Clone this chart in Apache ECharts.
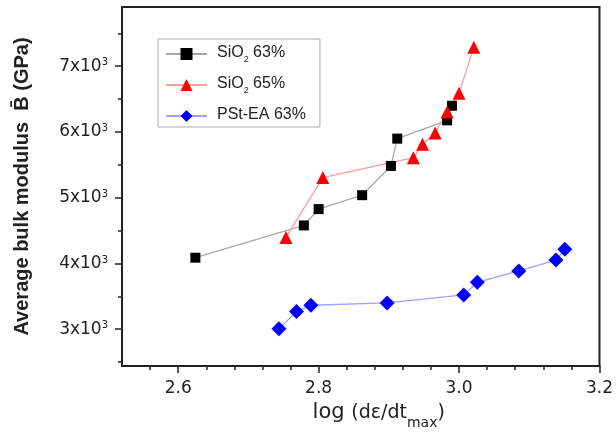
<!DOCTYPE html>
<html>
<head>
<meta charset="utf-8">
<script src="https://cdn.jsdelivr.net/npm/echarts@6/dist/echarts.min.js"></script>
<style>
  html, body { margin: 0; padding: 0; background: #fff; }
  #chart { width: 616px; height: 443px; }
</style>
</head>
<body>
<div id="chart"></div>
<script>
// values
var sio63X = [2.6245, 2.779, 2.800, 2.862, 2.903, 2.912, 2.983, 2.990];
var sio63Y = [4087, 4578, 4826, 5038, 5483, 5898, 6176, 6398];

var sio65X = [2.7535, 2.806, 2.935, 2.948, 2.966, 2.983, 3.000, 3.021];
var sio65Y = [4396, 5306, 5609, 5812, 5984, 6302, 6590, 7288];

var pstX = [2.7435, 2.7685, 2.789, 2.8976, 3.0066, 3.026, 3.085, 3.138, 3.1506];
var pstY = [3005, 3268, 3364, 3400, 3521, 3713, 3885, 4052, 4214];

var xLabels = [2.6, 2.8, 3.0, 3.2];
var xMinor = [2.56, 2.64, 2.68, 2.72, 2.76, 2.84, 2.88, 2.92, 2.96, 3.04, 3.08, 3.12, 3.16];
var yLabels = [3000, 4000, 5000, 6000, 7000];
var yMinor = [2500, 3500, 4500, 5500, 6500, 7500];

var names = ['SiO2 63%', 'SiO2 65%', 'PSt-EA 63%'];

function pairs(xs, ys) {
  var out = [];
  for (var i = 0; i < xs.length; i++) out.push([xs[i], ys[i]]);
  return out;
}

var FONT = 'Liberation Sans';
var WIDE = 'DejaVu Sans';
var X_MIN = 2.52, X_MAX = 3.2, Y_MIN = 2440, Y_MAX = 7900;

var chart = echarts.init(document.getElementById('chart'), null, { renderer: 'canvas' });

var option = {
  animation: false,
  backgroundColor: '#fff',
  grid: {
    left: 122, right: 16, top: 7, bottom: 77,
    show: true, borderColor: '#222', borderWidth: 2
  },
  legend: {
    orient: 'vertical',
    left: 158, top: 39,
    padding: [6, 14, 4, 7],
    itemGap: 12,
    itemWidth: 41,
    itemHeight: 15,
    borderColor: '#aaa',
    borderWidth: 1,
    data: names,
    formatter: function (n) {
      if (n.indexOf('SiO2') === 0) return '{n|SiO}{s|2}{n|' + n.slice(4) + '}';
      return '{n|' + n + '}';
    },
    textStyle: {
      fontFamily: FONT, fontSize: 16, color: '#222', padding: [0, 0, 0, 5],
      rich: {
        n: { fontFamily: FONT, fontSize: 16, color: '#222', verticalAlign: 'top', lineHeight: 18 },
        s: { fontFamily: FONT, fontSize: 9, color: '#222', verticalAlign: 'top', lineHeight: 10, padding: [10, 0, 0, 0] }
      }
    }
  },
  xAxis: [{
    type: 'value', min: X_MIN, max: X_MAX,
    name: '{a|log }{b|(d\u03b5/dt}{s|max}{b|)}',
    nameLocation: 'middle', nameGap: 36,
    nameTextStyle: {
      padding: [0, 0, 0, 36],
      rich: {
        a: { fontFamily: WIDE, fontSize: 21, color: '#222', verticalAlign: 'top', lineHeight: 24 },
        b: { fontFamily: WIDE, fontSize: 19, color: '#222', verticalAlign: 'top', lineHeight: 24, padding: [2, 0, 0, 0] },
        s: { fontFamily: WIDE, fontSize: 14, color: '#222', verticalAlign: 'top', lineHeight: 14, padding: [14, 0, 0, 0] }
      }
    },
    axisLine: { lineStyle: { color: '#222', width: 2 } },
    axisTick: { customValues: xLabels, length: 7, inside: false, lineStyle: { color: '#222', width: 1.5 } },
    axisLabel: {
      customValues: xLabels, margin: 14,
      fontFamily: WIDE, fontSize: 17, color: '#222',
      formatter: function (v) { return v.toFixed(1); }
    },
    splitLine: { show: false }
  }, {
    type: 'value', min: X_MIN, max: X_MAX, position: 'bottom',
    axisLine: { show: false },
    axisTick: { customValues: xMinor, length: 4, lineStyle: { color: '#222', width: 1.5 } },
    axisLabel: { show: false },
    splitLine: { show: false }
  }],
  yAxis: [{
    type: 'value', min: Y_MIN, max: Y_MAX,
    name: 'Average bulk modulus  B\u0304 (GPa)',
    nameLocation: 'middle', nameGap: 90, nameRotate: 90,
    nameTextStyle: { fontFamily: FONT, fontSize: 20, fontWeight: 'bold', color: '#222' },
    axisLine: { lineStyle: { color: '#222', width: 2 } },
    axisTick: { customValues: yLabels, length: 7, lineStyle: { color: '#222', width: 1.5 } },
    axisLabel: {
      customValues: yLabels, margin: 14,
      formatter: function (v) { return '{b|' + (v / 1000) + 'x10}{p|3}'; },
      rich: {
        b: { fontFamily: WIDE, fontSize: 17, color: '#222', verticalAlign: 'bottom' },
        p: { fontFamily: WIDE, fontSize: 10, color: '#222', verticalAlign: 'top' }
      }
    },
    splitLine: { show: false }
  }, {
    type: 'value', min: Y_MIN, max: Y_MAX, position: 'left',
    axisLine: { show: false },
    axisTick: { customValues: yMinor, length: 4, lineStyle: { color: '#222', width: 1.5 } },
    axisLabel: { show: false },
    splitLine: { show: false }
  }],
  series: [{
    name: names[0], type: 'line',
    data: pairs(sio63X, sio63Y),
    symbol: 'rect', symbolSize: 10,
    itemStyle: { color: '#000', borderWidth: 0 },
    lineStyle: { color: '#a8a8a8', width: 1.3 }
  }, {
    name: names[1], type: 'line',
    data: pairs(sio65X, sio65Y),
    symbol: 'triangle', symbolSize: 13,
    itemStyle: { color: '#ff0000' },
    lineStyle: { color: '#ff9a9a', width: 1.3 }
  }, {
    name: names[2], type: 'line',
    data: pairs(pstX, pstY),
    symbol: 'diamond', symbolSize: 15,
    itemStyle: { color: '#0000ff' },
    lineStyle: { color: '#a0a0ff', width: 1.3 }
  }]
};

chart.setOption(option);
</script>
</body>
</html>
